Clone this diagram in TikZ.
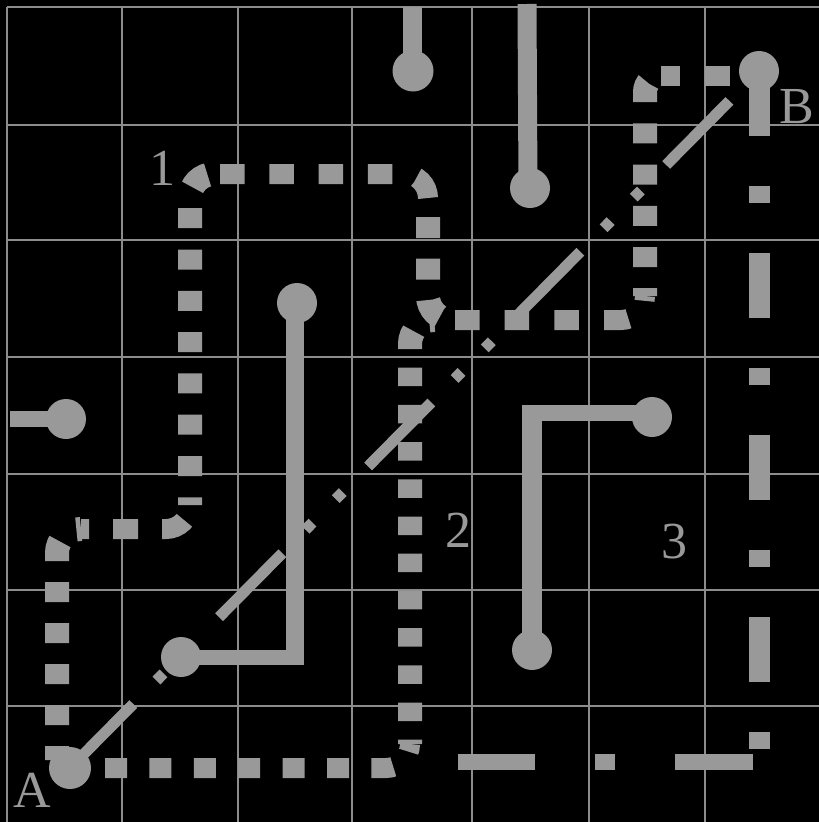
\documentclass[tikz,border=0pt]{standalone}
\usepackage{fontspec}
\setmainfont{Liberation Serif}
\definecolor{fg}{RGB}{153,153,153}
\definecolor{gridc}{RGB}{140,140,140}
\begin{document}
\begin{tikzpicture}[x=1pt,y=-1pt,
  gridline/.style={draw=gridc, line width=1.6pt},
  obstv/.style={draw=fg, line width=19pt},
  obsth/.style={draw=fg, line width=16pt},
  knob/.style={fill=fg},
  dotv/.style={draw=fg, line width=24pt},
  doth/.style={draw=fg, line width=20pt},
  lbl/.style={text=fg, font=\fontsize{52}{52}\selectfont, inner sep=0pt}
]
\fill[black] (0,0) rectangle (819,822);
\useasboundingbox (0,0) rectangle (819,822);
% grid
\foreach \x in {7,122,238,352,472,589,705} \draw[gridline] (\x,7) -- (\x,822);
\foreach \y in {7,125,240,357,474,590,706} \draw[gridline] (7,\y) -- (819,\y);
% key points
\coordinate (A) at (70,768);
\coordinate (B) at (759,71);
% path 1 (dotted)
\draw[dotv, dash pattern=on 20pt off 21pt, dash phase=6pt]
  (57,760) -- (57,553) .. controls (57,539.75) and (67.75,529) .. (81,529);
\draw[doth, dash pattern=on 25pt off 24pt, dash phase=17pt]
  (81,529) -- (166,529) .. controls (179.25,529) and (190,518.25) .. (190,505);
\draw[dotv, dash pattern=on 20pt off 21.3pt, dash phase=12.3pt]
  (190,505) -- (190,198) .. controls (190,184.75) and (200.75,174) .. (214,174);
\draw[doth, dash pattern=on 24.5pt off 24.8pt, dash phase=43.3pt]
  (214,174) -- (404,174) .. controls (417.25,174) and (428,184.75) .. (428,198);
\draw[dotv, dash pattern=on 21pt off 20.5pt, dash phase=22.5pt]
  (428,198) -- (428,296) .. controls (428,309.25) and (438.75,320) .. (452,320);
\draw[doth, dash pattern=on 24.5pt off 25.2pt, dash phase=46.7pt]
  (452,320) -- (621,320) .. controls (634.25,320) and (645,309.25) .. (645,296);
\draw[dotv, dash pattern=on 20pt off 21.2pt, dash phase=12.2pt]
  (645,296) -- (645,92) .. controls (645,83.2) and (652.2,76) .. (661,76);
\draw[doth, dash pattern=on 24.5pt off 24.8pt, dash phase=5.3pt]
  (661,76) -- (759,76);
% path 2 (dotted)
\draw[doth, dash pattern=on 22pt off 22.4pt, dash phase=9.4pt]
  (A) -- (386,768) .. controls (399.25,768) and (410,757.25) .. (410,744);
\draw[dotv, dash pattern=on 18.5pt off 18.7pt, dash phase=14.2pt]
  (410,744) -- (410,344) .. controls (410,330.75) and (420.75,320) .. (434,320);
% path 3 (dash-dot)
\draw[draw=fg, line width=21pt, dash pattern=on 65pt off 50pt on 17pt off 50pt]
  (B) -- (759,749);
\draw[draw=fg, line width=16pt, dash pattern=on 78pt off 60pt on 20pt off 60pt]
  (753,762) -- (458,762);
% straight line A-B
\draw[draw=fg, line width=11pt, dash pattern=on 90pt off 33pt on 10pt off 33pt on 10pt off 36pt]
  (A) -- (B);
% obstacles
\draw[obstv] (412,7) -- (412,71);
\fill[knob] (413,71) circle[radius=20.5];
\draw[obstv] (527,4) -- (528,188);
\fill[knob] (530,188) circle[radius=20];
\draw[draw=fg, line width=18pt] (295,303) -- (295,664);
\draw[draw=fg, line width=15pt] (304,657) -- (181,657);
\fill[knob] (297,303) circle[radius=20];
\fill[knob] (181,657) circle[radius=20];
\draw[obsth] (10,419) -- (66,419);
\fill[knob] (66,419) circle[radius=20];
\draw[obsth] (652,413) -- (522,413);
\draw[draw=fg, line width=19.5pt] (532,405) -- (532,650);
\fill[knob] (652,417) circle[radius=20];
\fill[knob] (532,650) circle[radius=20];
% start and goal
\fill[knob] (A) circle[radius=21];
\fill[knob] (B) circle[radius=20];
% labels
\node[lbl] (n1) at (162,168) {1};
\node[lbl] (n2) at (458,530) {2};
\node[lbl] (n3) at (674,542) {3};
\node[lbl] (nA) at (32,790) {A};
\node[lbl] (nB) at (797,107) {B};
\end{tikzpicture}
\end{document}
